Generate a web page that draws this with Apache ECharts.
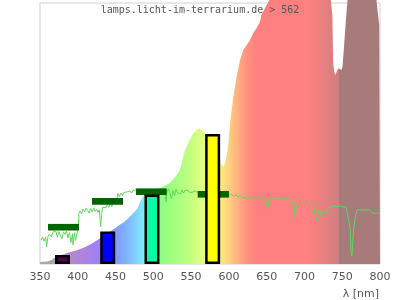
<!DOCTYPE html>
<html>
<head>
<meta charset="utf-8">
<script src="https://cdn.jsdelivr.net/npm/echarts@6/dist/echarts.min.js"></script>
<style>html,body{margin:0;padding:0;background:#fff}#c{width:400px;height:300px}</style>
</head>
<body>
<div id="c"></div>
<script>
// ---- data ----
var xTicks = [350, 400, 450, 500, 550, 600, 650, 700, 750, 800];

// spectrum area (wavelength nm, relative value)
var areaNm  = [350,355,360,365,370,380,390,400,410,420,430,440,450,455,462,469,475,479,482,486,490,500,510,515,522,531,535,542,544,548,553,557,561,564,567,575,585,590,593,596,599,601.5,603.7,605.8,610.3,614.7,619,623.6,628,632.3,636.8,641.2,643,650,655,670,700,730,734,735,737,738,739.5,741,743,745,747,749.3,750.6,752.7,754.6,757,760,780,795,797,799,800];
var areaVal = [0.8,0.9,1.0,1.5,2.5,3.5,4.6,5.4,6.5,8.0,10.0,12.0,13.8,14.9,16.2,18.1,20.0,21.3,23.4,25.8,27.0,28.5,29.1,30.0,31.0,34.1,36.0,43.7,44.9,47.5,50.1,51.3,52.0,51.3,50.7,47.0,42.0,38.0,37.2,40.0,45.0,54.0,59.0,64.1,71.8,78.2,82.0,83.9,85.8,88.5,90.4,92.8,95.4,99.2,102,110,115,110,104,101,95.4,77,73.6,72.4,74,75,74.3,74.3,76.2,84.7,92.3,101,108,110,102,96.6,91.6,91.6];

// measured spectrum line
var lineNm  = [351.7,353.5,355.5,357.5,358.8,360.5,362.5,365,367,369,371,373,375,377,379,381,383,385,387,389,391,393,393.7,395.5,397,399,400.5,401.6,403,405,407,409,411,413,415,417,419,421,423,425,427,428.5,430.3,431.5,433,435,437,439,441,443,445,447,449,451,453,455,457,459,461,463,465,467,469,471,473,475,477,485,495,505,515,516,517,518,520,522,524,526,528,530,532,534,536,538,540,542,544,546,548,550,552,555,558,570,585,600,603,606,609,612,615,618,621,624,627,630,633,636,639,642,645,648,650,651.7,653,656,659,662,665,668,671,674,677,680,683,684.8,686,687.5,689,691,694,697,700,703,706,709,712,714,715.5,717.5,719,721.5,723,725,727,729,731.5,733.8,736,738,740,743,746,749,752,755,757.6,759.4,760.5,761.6,762.8,764,765,766.5,768,769.6,772,776,780,784,787,789,791,795,800];
var lineVal = [9.2,10.3,8.7,10.4,6.6,10.5,11.4,10.4,12.2,11.5,12.6,10.2,12.4,11.8,9.6,12.3,11.4,12.6,10.0,12.0,8.3,11.6,7.3,12.0,9.0,11.8,13.0,19.5,20.3,19.2,21.0,20.0,21.4,20.5,19.5,21.2,20.0,21.5,20.2,21.0,19.8,20.8,14.3,19.0,21.8,22.5,21.5,22.8,21.7,23.0,22.0,23.5,24.5,23.5,27.0,25.8,27.2,26.2,27.4,26.8,27.6,27.0,28.0,27.2,28.2,27.6,28.4,28.0,28.2,27.8,28.0,28.6,23.8,27.5,28.8,27.0,25.0,28.2,26.2,28.6,27.4,28.0,26.8,28.4,27.2,28.3,27.6,28.2,27.4,28.0,27.5,28.0,27.6,27.0,26.5,26.0,26.8,25.9,26.5,25.8,26.2,25.2,25.6,24.8,25.6,25.0,25.8,25.3,25.9,25.0,25.6,24.8,25.2,21.3,24.5,25.5,25.2,25.5,25.0,25.3,25.0,25.2,24.8,25.0,24.5,23.0,24.0,17.5,22.0,23.3,23.4,23.2,23.4,23.0,23.3,23.0,23.2,22.8,16.9,17.5,20.7,18.2,20.5,19.0,20.2,19.4,21.5,21.8,22.0,21.7,22.2,22.0,22.3,22.0,21.9,21.8,21.7,15.5,13.5,4.8,3.0,9.0,13.0,16.5,19.0,20.7,20.9,20.8,20.6,20.8,20.4,19.9,19.4,19.5,19.4];

// LED bars
var barNm  = [379.8, 439.6, 498.2, 578.5];
var barVal = [3.45, 12.5, 26.6, 49.8];

// band averages (start nm, end nm, value)
var bandStart = [360.6, 418.8, 477.1, 558.7];
var bandEnd   = [401.6, 459.9, 517.7, 600.1];
var bandVal   = [14.1, 24.0, 27.7, 26.7];

// ---- styles ----
var barFill = ['#500050', '#0000ff', '#00ffa8', '#ffff00'];
var spectrumStops = [
  [350,'#a8a8a8'],[372,'#a8a8a8'],[378,'#b08cc4'],[392,'#b487cf'],[410,'#ac84e0'],[425,'#a080f8'],
  [435,'#9888ff'],[450,'#8098ff'],[465,'#80b4ff'],[478,'#80d4ff'],[486,'#80e8ff'],[492,'#80ffd0'],
  [500,'#80ffa0'],[510,'#8cff80'],[530,'#a8ff80'],[550,'#c4ff80'],[565,'#e0ff80'],[578,'#f4ff80'],
  [590,'#ffe880'],[600,'#ffd080'],[612,'#ffb080'],[625,'#ff9080'],[636,'#ff8080'],[705,'#ff8080'],
  [725,'#e88080'],[745,'#d07f7f'],[745.5,'#a87b7b'],[800,'#a87b7b']
];

var chart = echarts.init(document.getElementById('c'), null, {renderer: 'canvas'});

var areaData = areaNm.map(function (n, i) { return [n, areaVal[i]]; });
var lineData = lineNm.map(function (n, i) { return [n, lineVal[i]]; });
var barData = barNm.map(function (n, i) {
  return { value: [n, barVal[i]], itemStyle: { color: barFill[i] } };
});
var bandData = bandStart.map(function (s, i) { return [s, bandEnd[i], bandVal[i]]; });

chart.setOption({
  animation: false,
  grid: { left: 40, right: 20, top: 3, bottom: 36, show: true, borderColor: '#d2d2d2', borderWidth: 1 },
  xAxis: {
    type: 'value', min: 350, max: 800, interval: 50,
    axisLine: { show: false }, axisTick: { show: false }, splitLine: { show: false },
    axisLabel: { color: '#555', fontSize: 11, fontFamily: 'DejaVu Sans', margin: 8,
      formatter: function (v) { return xTicks.indexOf(v) >= 0 ? String(v) : ''; } }
  },
  yAxis: { type: 'value', min: 0, max: 100, show: false },
  graphic: [
    { type: 'text', left: 'center', top: 5, z: 100,
      style: { text: 'lamps.licht-im-terrarium.de > 562', fill: '#555', font: '10px "DejaVu Sans Mono"' } },
    { type: 'text', right: 21, top: 289, z: 100,
      style: { text: 'λ [nm]', fill: '#555', font: '11px "DejaVu Sans"' } }
  ],
  series: [
    {
      type: 'line', data: areaData, symbol: 'none', clip: false, z: 1, silent: true,
      lineStyle: { width: 0, opacity: 0 },
      areaStyle: {
        opacity: 1,
        color: { type: 'linear', x: 0, y: 0, x2: 1, y2: 0,
          colorStops: spectrumStops.map(function (s) { return { offset: (s[0] - 350) / 450, color: s[1] }; }) }
      }
    },
    {
      type: 'line', data: lineData, symbol: 'none', z: 2, silent: true,
      lineStyle: { color: '#5cd85c', width: 1 }
    },
    {
      type: 'custom', data: bandData, z: 3, silent: true,
      encode: { x: [0, 1], y: 2 },
      renderItem: function (params, api) {
        var a = api.coord([api.value(0), api.value(2)]);
        var b = api.coord([api.value(1), api.value(2)]);
        return { type: 'rect', shape: { x: a[0], y: a[1] - 3.3, width: b[0] - a[0], height: 6.6 },
          style: { fill: '#006400' } };
      }
    },
    {
      type: 'bar', data: barData, barWidth: 15, z: 4, silent: true,
      itemStyle: { borderColor: '#000', borderWidth: 2.5 }
    }
  ]
});
</script>
</body>
</html>
